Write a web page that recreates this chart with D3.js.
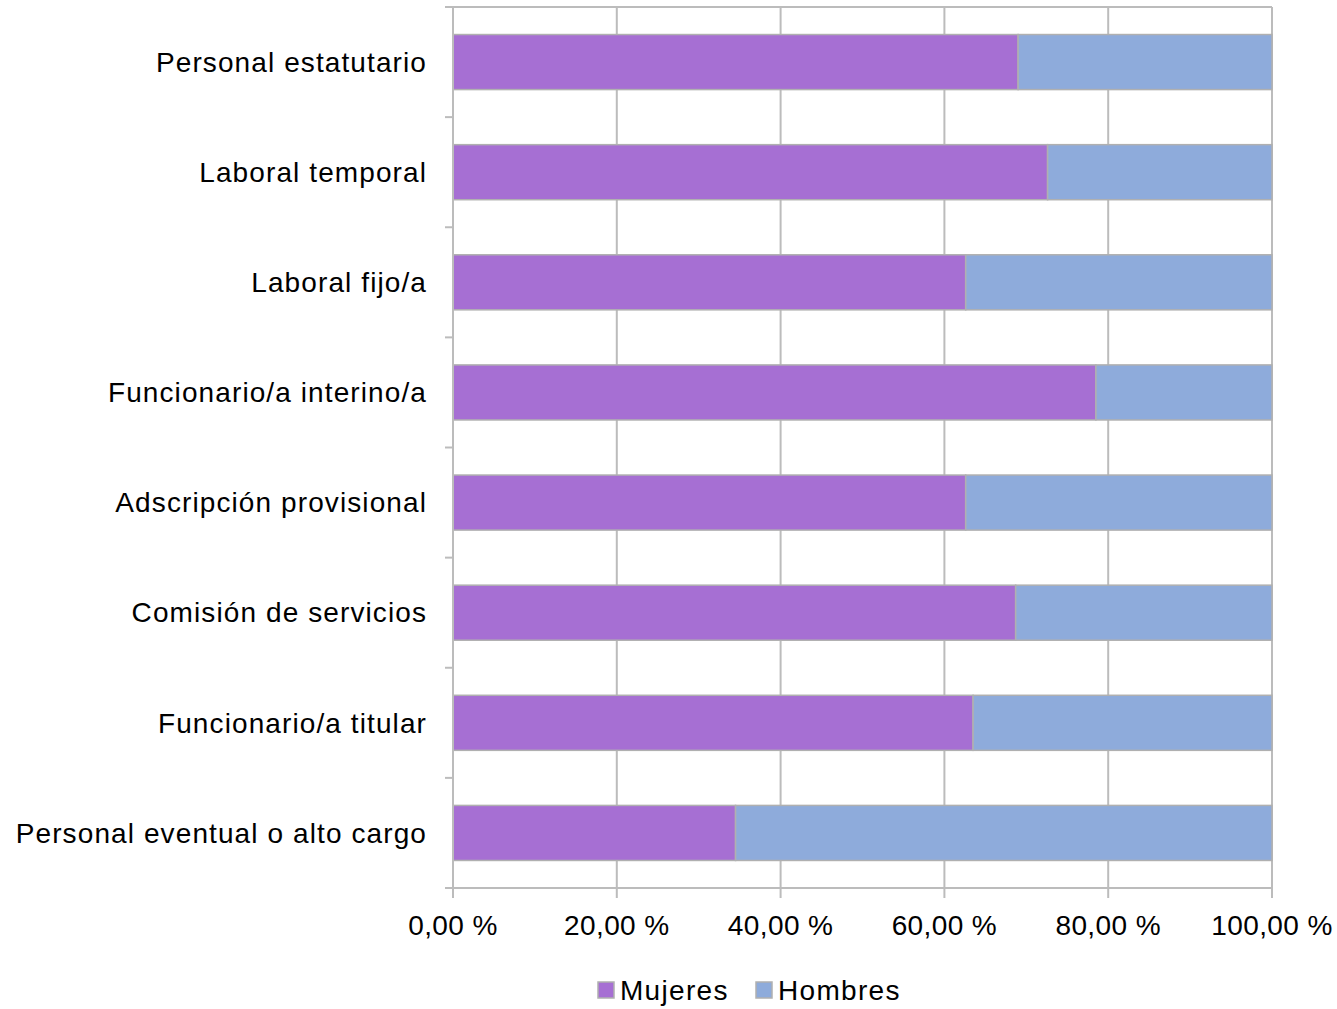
<!DOCTYPE html>
<html>
<head>
<meta charset="utf-8">
<script src="https://cdn.jsdelivr.net/npm/d3@7"></script>
<style>
	body { margin: 0; background: #fff; }
	text { font-family: "Liberation Sans", Arial, sans-serif; fill: #000; }
</style>
</head>
<body>
<div id="chart"></div>
<script>
const categories = [
	'Personal estatutario',
	'Laboral temporal',
	'Laboral fijo/a',
	'Funcionario/a interino/a',
	'Adscripción provisional',
	'Comisión de servicios',
	'Funcionario/a titular',
	'Personal eventual o alto cargo'
];
const mujeres = [69.0, 72.6, 62.6, 78.5, 62.6, 68.7, 63.5, 34.5];
const hombres = mujeres.map(m => +(100 - m).toFixed(1));
const seriesNames = ['Mujeres', 'Hombres'];
const xTicks = [0, 20, 40, 60, 80, 100];

const 	mujeresColor = '#a66fd3',
		hombresColor = '#8eabdb',
		lineColor = '#bcbcbc',
		barStroke = '#b0b0b0';

const width = 1337, height = 1009;
const margin = {top: 7, right: 65, bottom: 121, left: 453};
const innerW = width - margin.left - margin.right,
	  innerH = height - margin.top - margin.bottom;

const svg = d3.select('#chart').append('svg')
	.attr('width', width)
	.attr('height', height);

const g = svg.append('g')
	.attr('transform', `translate(${margin.left},${margin.top})`);

const x = d3.scaleLinear().domain([0, 100]).range([0, innerW]);
const y = d3.scaleBand().domain(categories).range([0, innerH])
	.paddingInner(0.5).paddingOuter(0.25);

// vertical gridlines
g.append('g')
	.selectAll('line')
	.data(xTicks)
	.enter().append('line')
		.attr('x1', d => x(d)).attr('x2', d => x(d))
		.attr('y1', 0).attr('y2', innerH + 10)
		.style('stroke', lineColor)
		.style('stroke-width', 2);

// top border
g.append('line')
	.attr('x1', 0).attr('x2', innerW)
	.attr('y1', 0).attr('y2', 0)
	.style('stroke', lineColor).style('stroke-width', 2);

// stacked data
const rows = categories.map((c, i) => ({cat: c, Mujeres: mujeres[i], Hombres: hombres[i]}));
const stack = d3.stack().keys(seriesNames)(rows);
const colors = {Mujeres: mujeresColor, Hombres: hombresColor};

g.append('g')
	.selectAll('g')
	.data(stack)
	.enter().append('g')
		.style('fill', d => colors[d.key])
	.selectAll('rect')
	.data(d => d)
	.enter().append('rect')
		.attr('x', d => x(d[0]))
		.attr('width', d => x(Math.min(d[1], 100)) - x(d[0]))
		.attr('y', d => y(d.data.cat))
		.attr('height', y.bandwidth())
		.style('stroke', barStroke)
		.style('stroke-width', 1.5);

// left axis with tick marks at band boundaries
const bounds = d3.range(categories.length + 1).map(i => i * y.step());
g.append('line')
	.attr('x1', 0).attr('x2', 0)
	.attr('y1', 0).attr('y2', innerH)
	.style('stroke', lineColor).style('stroke-width', 2);
g.append('g')
	.selectAll('line')
	.data(bounds)
	.enter().append('line')
		.attr('x1', -8).attr('x2', 0)
		.attr('y1', d => d).attr('y2', d => d)
		.style('stroke', lineColor).style('stroke-width', 2);

// bottom axis line
g.append('line')
	.attr('x1', -8).attr('x2', innerW)
	.attr('y1', innerH).attr('y2', innerH)
	.style('stroke', lineColor).style('stroke-width', 2);

// category labels
g.append('g')
	.selectAll('text')
	.data(categories)
	.enter().append('text')
		.attr('x', -26)
		.attr('y', d => y(d) + y.bandwidth() / 2)
		.attr('dy', '0.35em')
		.attr('text-anchor', 'end')
		.style('font-size', '28px')
		.style('letter-spacing', '1.1px')
		.text(d => d);

// x tick labels
g.append('g')
	.selectAll('text')
	.data(xTicks)
	.enter().append('text')
		.attr('x', d => x(d))
		.attr('y', innerH + 47)
		.attr('text-anchor', 'middle')
		.style('font-size', '28px')
		.style('letter-spacing', '0.4px')
		.text(d => d3.format('.2f')(d).replace('.', ',') + ' %');

// legend
const legend = svg.append('g').attr('transform', 'translate(598,0)');
const legendX = [0, 158];
seriesNames.forEach((s, i) => {
	legend.append('rect')
		.attr('x', legendX[i]).attr('y', 982)
		.attr('width', 16).attr('height', 16)
		.style('fill', colors[s])
		.style('stroke', barStroke).style('stroke-width', 1.5);
	legend.append('text')
		.attr('x', legendX[i] + 22).attr('y', 1000)
		.style('font-size', '28px')
		.style('letter-spacing', '1.3px')
		.text(s);
});
</script>
</body>
</html>
